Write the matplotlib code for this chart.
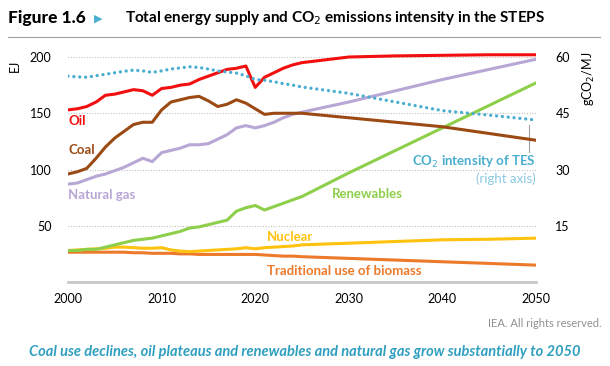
import numpy as np
import matplotlib
matplotlib.use("Agg")
import matplotlib.pyplot as plt

plt.rcParams['font.family'] = ['Lato', 'DejaVu Sans']

years_hist = list(range(2000, 2026))
years_proj = [2030, 2035, 2040, 2045, 2050]
years = years_hist + years_proj

oil = [153, 154, 156, 160, 166, 167, 169, 171, 170, 166, 172, 173, 175, 176, 180,
       183, 186, 189, 190, 192, 173, 182, 186, 190, 193, 195,
       200, 201, 201.5, 202, 202]
coal = [96, 98, 101, 110, 120, 128, 134, 140, 142, 142, 153, 160, 162, 164, 165,
        161, 156, 158, 162, 159, 154, 149, 150, 150, 150, 150,
        146, 142, 138, 132, 126]
gas = [87, 88, 91, 94, 96, 99, 102, 106, 110, 107, 115, 117, 119, 122, 122,
       123, 127, 131, 137, 139, 137, 139, 142, 146, 149, 151,
       160, 170, 180, 189, 198]
renew = [28, 28, 29, 29, 31, 33, 35, 37, 38, 39, 41, 43, 45, 48, 49,
         51, 53, 55, 63, 66, 68, 64, 67, 70, 73, 76,
         97, 117, 137, 157, 177]
nuclear = [28, 28.5, 29, 29.5, 30, 31, 31, 30.5, 30, 30, 30.5, 28.5, 27.5, 27, 27.5,
           28, 28.5, 29, 29.5, 30.5, 29.5, 30.5, 31, 31.5, 32, 33,
           34.5, 36, 37.5, 38, 39]
biomass = [26.5, 26.5, 26.5, 26.5, 26.5, 26.5, 26.5, 26, 26, 25.5, 25.5, 25.5, 25, 25, 24.5,
           24.5, 24.5, 24.5, 24.5, 24.5, 24.5, 24, 23.5, 23, 23, 22.5,
           21, 19.5, 18, 16.5, 15]
co2_int = [54.9, 54.7, 54.6, 55.0, 55.4, 55.8, 56.2, 56.5, 56.3, 55.9, 56.3, 56.8, 57.1, 57.4, 57.2,
           56.8, 56.3, 56.0, 55.7, 55.0, 54.0, 53.8, 53.4, 52.9, 52.5, 52.0,
           50.3, 48.0, 45.7, 44.5, 43.2]

fig = plt.figure(figsize=(6.1, 3.66), dpi=100)
ax = fig.add_axes([0.1115, 0.2295, 0.7672, 0.6301])
ax2 = ax.twinx()

ax.plot(years, biomass, color='#ec7a2a', lw=2.2, zorder=3)
ax.plot(years, nuclear, color='#ffc20e', lw=2.2, zorder=3)
ax.plot(years, renew, color='#8dcf4a', lw=2.2, zorder=3)
ax.plot(years, gas, color='#b8a6d4', lw=2.2, zorder=3)
ax.plot(years, coal, color='#9b4a14', lw=2.2, zorder=3)
ax.plot(years, oil, color='#f20f0f', lw=2.2, zorder=3)
ax2.plot(years, co2_int, color='#4aaed0', lw=2.4, ls=(0, (0.01, 1.75)),
         dash_capstyle='round', zorder=3)

ax.set_xlim(2000, 2050)
ax.set_ylim(0, 205)
ax2.set_ylim(0, 61.5)
ax.set_yticks([50, 100, 150, 200])
ax2.set_yticks([15, 30, 45, 60])
ax.set_xticks([2000, 2010, 2020, 2030, 2040, 2050])
for y in [50, 100, 150, 200]:
    ax.axhline(y, color='#b4b4b4', lw=0.8, ls=(0, (0.8, 1.6)), zorder=1)

for a in (ax, ax2):
    for s in a.spines.values():
        s.set_visible(False)
    a.tick_params(length=0, labelsize=9, colors='black')
ax.spines['bottom'].set_visible(True)
ax.spines['bottom'].set_color('#c8c8c8')
ax.spines['bottom'].set_linewidth(2)
ax.tick_params(axis='x', pad=8)
ax.tick_params(axis='y', pad=12)
ax2.tick_params(axis='y', pad=14)

fig.text(0.025, 0.82, 'EJ', rotation=90, fontsize=9, ha='center', va='center')
fig.text(0.965, 0.785, 'gCO$_2$/MJ', rotation=90, fontsize=9, ha='center', va='center')

lab = dict(fontsize=9.5, fontweight='bold', va='center')
ax.text(2000, 143, 'Oil', color='#f20f0f', **lab)
ax.text(2000, 117, 'Coal', color='#9b4a14', **lab)
ax.text(2000, 77, 'Natural gas', color='#b8a6d4', **lab)
ax.text(2028.2, 78, 'Renewables', color='#8dcf4a', **lab)
ax.text(2021.2, 40, 'Nuclear', color='#ffc20e', **lab)
ax.text(2021.3, 9.8, 'Traditional use of biomass', color='#ec7a2a', **lab)
ax.text(2050, 106.7, 'CO$_2$ intensity of TES', color='#4aaed0', ha='right',
        fontsize=9.5, fontweight='bold', va='center')
ax.text(2050, 91.6, '(right axis)', color='#8cc9e2', ha='right', fontsize=9.5, va='center')
ax.plot([2049.3, 2049.3], [115.6, 139.6], color='#a0a0a0', lw=0.8, zorder=2)

fig.text(0.013, 0.95, 'Figure 1.6', fontsize=12.5, fontweight='black', va='center')
fig.text(0.161, 0.95, '\u25B6', fontsize=8, color='#4aaed0', va='center', ha='center',
         family=['DejaVu Sans'])
fig.text(0.205, 0.95, 'Total energy supply and CO$_2$ emissions intensity in the STEPS',
         fontsize=11, fontweight='bold', va='center')
fig.add_artist(plt.Line2D([0.013, 0.984], [0.899, 0.899], color='#a0a0a0', lw=0.8))

fig.text(0.987, 0.117, 'IEA. All rights reserved.', fontsize=8, color='#909090', ha='right',
         va='center')
fig.text(0.499, 0.038, 'Coal use declines, oil plateaus and renewables and natural gas grow '
         'substantially to 2050', fontsize=10.5, style='italic', fontweight='bold',
         color='#2f9fc0', ha='center', va='center')

fig.savefig('out.png', dpi=100)
